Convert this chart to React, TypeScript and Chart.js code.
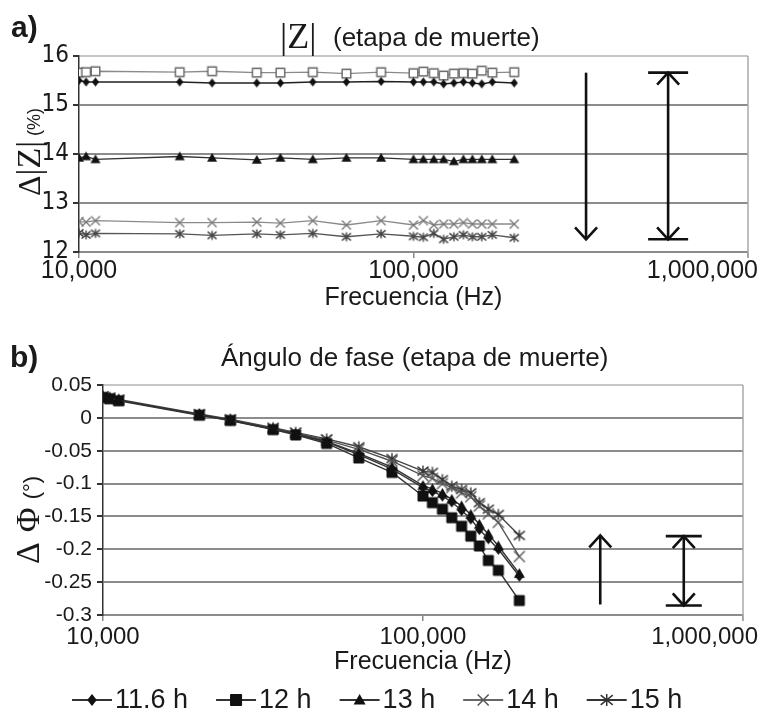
import React, { useEffect, useRef } from "react";
import { Chart, registerables } from "chart.js";

Chart.register(...registerables);

const SANS = "'Liberation Sans', Arial, sans-serif";
const NARROW = "'Liberation Sans Narrow', 'DejaVu Sans Condensed', sans-serif";
const SERIF = "'Liberation Serif', 'DejaVu Serif', serif";
const INK = "#1a1a1a";

// Measurement frequencies (Hz)
const FREQUENCIES = [
  10000, 10500, 11200, 20000, 25000, 34000, 40000, 50000, 63000, 80000,
  100000, 107000, 115000, 123000, 132000, 141000, 150000, 160000, 172000, 200000,
];

const SERIES_NAMES = ["11.6 h", "12 h", "13 h", "14 h", "15 h"];

// Δ|Z| (%)
const DZ_11_6H = [15.5, 15.47, 15.47, 15.47, 15.45, 15.45, 15.45, 15.47, 15.47, 15.48, 15.47, 15.47, 15.47, 15.43, 15.45, 15.47, 15.45, 15.43, 15.47, 15.45];
const DZ_12H = [15.66, 15.67, 15.69, 15.67, 15.69, 15.66, 15.66, 15.67, 15.64, 15.67, 15.65, 15.68, 15.65, 15.6, 15.64, 15.65, 15.64, 15.7, 15.66, 15.67];
const DZ_13H = [13.92, 13.95, 13.89, 13.95, 13.92, 13.88, 13.92, 13.89, 13.92, 13.92, 13.89, 13.89, 13.89, 13.89, 13.85, 13.89, 13.89, 13.89, 13.89, 13.89];
const DZ_14H = [12.62, 12.61, 12.64, 12.6, 12.6, 12.61, 12.59, 12.64, 12.55, 12.64, 12.55, 12.64, 12.55, 12.57, 12.57, 12.6, 12.57, 12.57, 12.57, 12.57];
const DZ_15H = [12.39, 12.35, 12.38, 12.37, 12.34, 12.37, 12.35, 12.38, 12.31, 12.37, 12.32, 12.3, 12.38, 12.26, 12.31, 12.35, 12.31, 12.31, 12.35, 12.29];

// ΔΦ (°)
const DP_11_6H = [0.032, 0.03, 0.027, 0.005, -0.004, -0.017, -0.025, -0.037, -0.056, -0.078, -0.106, -0.112, -0.119, -0.128, -0.141, -0.154, -0.17, -0.184, -0.2, -0.241];
const DP_12H = [0.031, 0.029, 0.026, 0.004, -0.004, -0.018, -0.026, -0.039, -0.061, -0.083, -0.119, -0.129, -0.139, -0.152, -0.165, -0.18, -0.195, -0.217, -0.232, -0.278];
const DP_13H = [0.032, 0.03, 0.027, 0.005, -0.003, -0.017, -0.024, -0.036, -0.054, -0.075, -0.103, -0.108, -0.115, -0.124, -0.134, -0.147, -0.162, -0.177, -0.195, -0.237];
const DP_14H = [0.032, 0.03, 0.027, 0.005, -0.003, -0.016, -0.023, -0.034, -0.048, -0.066, -0.088, -0.092, -0.1, -0.106, -0.114, -0.12, -0.134, -0.146, -0.159, -0.211];
const DP_15H = [0.033, 0.031, 0.028, 0.006, -0.002, -0.015, -0.022, -0.032, -0.044, -0.062, -0.081, -0.083, -0.094, -0.104, -0.109, -0.114, -0.129, -0.139, -0.147, -0.179];

const FREQ_TICKS = [10000, 100000, 1000000];
const DZ_TICKS = [12, 13, 14, 15, 16];
const DP_TICKS = [0.05, 0, -0.05, -0.1, -0.15, -0.2, -0.25, -0.3];

// Trend arrows (frequency, start value, end value)
type ArrowSpec = { freq: number; from: number; to: number; capped: boolean; capHalf?: number };
const DZ_ARROWS: ArrowSpec[] = [
  { freq: 328000, from: 15.66, to: 12.26, capped: false },
  { freq: 577000, from: 15.66, to: 12.26, capped: true, capHalf: 20 },
];
const DP_ARROWS: ArrowSpec[] = [
  { freq: 358000, from: -0.284, to: -0.179, capped: false },
  { freq: 653000, from: -0.2855, to: -0.18, capped: true, capHalf: 18 },
];

type MarkerKind = "diamond" | "square" | "triangle" | "cross" | "star";
type MarkerLook = { kind: MarkerKind; s: number; fill: string; stroke: string; lw: number };

function drawMarker(ctx: CanvasRenderingContext2D, m: MarkerLook, x: number, y: number) {
  const s = m.s;
  ctx.save();
  ctx.fillStyle = m.fill;
  ctx.strokeStyle = m.stroke;
  ctx.lineWidth = m.lw;
  ctx.beginPath();
  switch (m.kind) {
    case "diamond":
      ctx.moveTo(x, y - s);
      ctx.lineTo(x + s * 0.8, y);
      ctx.lineTo(x, y + s);
      ctx.lineTo(x - s * 0.8, y);
      ctx.closePath();
      ctx.fill();
      break;
    case "square":
      ctx.rect(x - s, y - s, 2 * s, 2 * s);
      ctx.fill();
      ctx.stroke();
      break;
    case "triangle":
      ctx.moveTo(x, y - s);
      ctx.lineTo(x + s, y + s * 0.75);
      ctx.lineTo(x - s, y + s * 0.75);
      ctx.closePath();
      ctx.fill();
      break;
    case "cross":
      ctx.moveTo(x - s, y - s);
      ctx.lineTo(x + s, y + s);
      ctx.moveTo(x + s, y - s);
      ctx.lineTo(x - s, y + s);
      ctx.stroke();
      break;
    case "star":
      ctx.moveTo(x - s, y - s * 0.8);
      ctx.lineTo(x + s, y + s * 0.8);
      ctx.moveTo(x + s, y - s * 0.8);
      ctx.lineTo(x - s, y + s * 0.8);
      ctx.moveTo(x, y - s);
      ctx.lineTo(x, y + s);
      ctx.stroke();
      break;
  }
  ctx.restore();
}

function markerImage(m: MarkerLook): HTMLCanvasElement {
  const c = document.createElement("canvas");
  const size = Math.ceil(2 * m.s + m.lw + 3);
  c.width = size;
  c.height = size;
  const ctx = c.getContext("2d")!;
  drawMarker(ctx, m, size / 2, size / 2);
  return c;
}

function drawArrows(chart: any, arrows: ArrowSpec[]) {
  const ctx: CanvasRenderingContext2D = chart.ctx;
  const xs = chart.scales.x;
  const ys = chart.scales.y;
  ctx.save();
  ctx.strokeStyle = "#111";
  ctx.lineWidth = 2.6;
  ctx.lineJoin = "miter";
  for (const a of arrows) {
    const x = xs.getPixelForValue(a.freq);
    const y1 = ys.getPixelForValue(a.from);
    const y2 = ys.getPixelForValue(a.to);
    const dir = Math.sign(y2 - y1);
    ctx.beginPath();
    ctx.moveTo(x, y1);
    ctx.lineTo(x, y2);
    ctx.stroke();
    const head = (tipY: number, d: number) => {
      ctx.beginPath();
      ctx.moveTo(x - 11, tipY - d * 12);
      ctx.lineTo(x, tipY);
      ctx.lineTo(x + 11, tipY - d * 12);
      ctx.stroke();
    };
    head(y2, dir);
    if (a.capped) {
      head(y1, -dir);
      const h = a.capHalf || 18;
      ctx.beginPath();
      ctx.moveTo(x - h, y1);
      ctx.lineTo(x + h, y1);
      ctx.moveTo(x - h, y2);
      ctx.lineTo(x + h, y2);
      ctx.stroke();
    }
  }
  ctx.restore();
}

function fmtFreq(v: number) {
  return v.toLocaleString("en-US");
}

type PanelCfg = {
  arrows: ArrowSpec[];
  tickFont: string;
  tickY: number;
  titleFont: string;
  titleY: number;
  legend?: { y: number; x0: number; looks: MarkerLook[]; lineColors: string[] };
};

function panelPlugin(cfg: PanelCfg) {
  return {
    id: "panelDecor",
    beforeDatasetsDraw(chart: any) {
      const { ctx, chartArea } = chart;
      ctx.save();
      ctx.strokeStyle = "#a8a8a8";
      ctx.lineWidth = 1.5;
      ctx.beginPath();
      ctx.moveTo(chartArea.right, chartArea.top);
      ctx.lineTo(chartArea.right, chartArea.bottom + 6);
      ctx.stroke();
      ctx.restore();
    },
    afterDatasetsDraw(chart: any) {
      drawArrows(chart, cfg.arrows);
    },
    afterDraw(chart: any) {
      const ctx: CanvasRenderingContext2D = chart.ctx;
      const xs = chart.scales.x;
      const W = chart.width;
      ctx.save();
      ctx.fillStyle = INK;
      ctx.textBaseline = "middle";
      ctx.textAlign = "center";
      ctx.font = cfg.tickFont;
      for (const v of FREQ_TICKS) {
        const px = xs.getPixelForValue(v);
        const w = ctx.measureText(fmtFreq(v)).width;
        const cx = Math.min(px, W - 5 - w / 2);
        ctx.fillText(fmtFreq(v), cx, cfg.tickY);
      }
      ctx.font = cfg.titleFont;
      const ca = chart.chartArea;
      ctx.fillText("Frecuencia (Hz)", (ca.left + ca.right) / 2, cfg.titleY);

      if (cfg.legend) {
        const lg = cfg.legend;
        let x = lg.x0;
        ctx.textAlign = "left";
        ctx.font = `27px ${SANS}`;
        SERIES_NAMES.forEach((name, i) => {
          ctx.strokeStyle = lg.lineColors[i];
          ctx.lineWidth = 2;
          ctx.beginPath();
          ctx.moveTo(x, lg.y);
          ctx.lineTo(x + 40, lg.y);
          ctx.stroke();
          drawMarker(ctx, lg.looks[i], x + 20, lg.y);
          ctx.fillStyle = INK;
          ctx.fillText(name, x + 43, lg.y + 1);
          x += 43 + ctx.measureText(name).width + 28;
        });
      }
      ctx.restore();
    },
  };
}

function series(values: number[]) {
  return FREQUENCIES.map((f, i) => ({ x: f, y: values[i] }));
}

export default function App() {
  const topRef = useRef<HTMLCanvasElement>(null);
  const botRef = useRef<HTMLCanvasElement>(null);

  useEffect(() => {
    document.body.style.margin = "0";

    const topLooks: MarkerLook[] = [
      { kind: "diamond", s: 4.5, fill: "#111", stroke: "#111", lw: 1 },
      { kind: "square", s: 4.3, fill: "#fff", stroke: "#666", lw: 1.4 },
      { kind: "triangle", s: 5, fill: "#111", stroke: "#111", lw: 1 },
      { kind: "cross", s: 4.5, fill: "#777", stroke: "#777", lw: 1.4 },
      { kind: "star", s: 4.5, fill: "#444", stroke: "#444", lw: 1.4 },
    ];
    const topLines = ["#222", "#8a8a8a", "#333", "#8a8a8a", "#555"];
    const dz = [DZ_11_6H, DZ_12H, DZ_13H, DZ_14H, DZ_15H];

    const botLooks: MarkerLook[] = [
      { kind: "diamond", s: 5.5, fill: "#111", stroke: "#111", lw: 1 },
      { kind: "square", s: 5, fill: "#111", stroke: "#111", lw: 1 },
      { kind: "triangle", s: 5.5, fill: "#111", stroke: "#111", lw: 1 },
      { kind: "cross", s: 5.5, fill: "#555", stroke: "#555", lw: 1.4 },
      { kind: "star", s: 5.5, fill: "#333", stroke: "#333", lw: 1.4 },
    ];
    const botLines = ["#333", "#333", "#333", "#555", "#444"];
    const dp = [DP_11_6H, DP_12H, DP_13H, DP_14H, DP_15H];

    const legendLooks: MarkerLook[] = [
      { kind: "diamond", s: 6, fill: "#111", stroke: "#111", lw: 1 },
      { kind: "square", s: 5.5, fill: "#111", stroke: "#111", lw: 1 },
      { kind: "triangle", s: 6, fill: "#111", stroke: "#111", lw: 1 },
      { kind: "cross", s: 5.5, fill: "#555", stroke: "#555", lw: 1.5 },
      { kind: "star", s: 6, fill: "#333", stroke: "#333", lw: 1.5 },
    ];

    const makeDatasets = (vals: number[][], looks: MarkerLook[], lines: string[], lw: number) =>
      vals.map((v, i) => ({
        label: SERIES_NAMES[i],
        data: series(v),
        borderColor: lines[i],
        borderWidth: lw,
        pointStyle: markerImage(looks[i]),
        pointRadius: 4,
        pointHoverRadius: 4,
        tension: 0,
        fill: false,
      }));

    const gridColor = (topValue: number) => (c: any) =>
      c.tick && Math.abs(c.tick.value - topValue) < 1e-9 ? "#c6c6c6" : "#8c8c8c";

    const xScale = (height: number) => ({
      type: "logarithmic" as const,
      min: 10000,
      max: 1000000,
      afterBuildTicks: (s: any) => {
        s.ticks = FREQ_TICKS.map((v) => ({ value: v }));
      },
      afterFit: (s: any) => {
        s.height = height;
      },
      ticks: { display: false },
      grid: { drawOnChartArea: false, drawTicks: true, tickLength: 6, tickColor: "#888", lineWidth: 1.5 },
      border: { display: true, color: "#8c8c8c", width: 2 },
    });

    const topChart = new Chart(topRef.current!, {
      type: "line",
      data: { datasets: makeDatasets(dz, topLooks, topLines, 1.4) as any },
      options: {
        responsive: false,
        animation: false,
        events: [],
        layout: { padding: { left: 0, right: 15, top: 56, bottom: 0 }, autoPadding: false } as any,
        plugins: { legend: { display: false }, tooltip: { enabled: false } },
        scales: {
          x: xScale(68) as any,
          y: {
            type: "linear",
            min: 12,
            max: 16,
            afterBuildTicks: (s: any) => {
              s.ticks = DZ_TICKS.map((v) => ({ value: v }));
            },
            afterFit: (s: any) => {
              s.width = 79;
            },
            ticks: { color: INK, font: { family: NARROW, size: 24 }, padding: 4 },
            grid: { color: gridColor(16), lineWidth: 2, tickLength: 6, tickColor: "#333", drawTicks: true },
            border: { display: true, color: "#333", width: 1.5 },
          } as any,
        },
      },
      plugins: [
        panelPlugin({
          arrows: DZ_ARROWS,
          tickFont: `25px ${SANS}`,
          tickY: 271,
          titleFont: `25px ${SANS}`,
          titleY: 298,
        }),
      ],
    });

    const botChart = new Chart(botRef.current!, {
      type: "line",
      data: { datasets: makeDatasets(dp, botLooks, botLines, 1.4) as any },
      options: {
        responsive: false,
        animation: false,
        events: [],
        layout: { padding: { left: 0, right: 20, top: 65, bottom: 0 }, autoPadding: false } as any,
        plugins: { legend: { display: false }, tooltip: { enabled: false } },
        scales: {
          x: xScale(101) as any,
          y: {
            type: "linear",
            min: -0.3,
            max: 0.05,
            afterBuildTicks: (s: any) => {
              s.ticks = DP_TICKS.map((v) => ({ value: v }));
            },
            afterFit: (s: any) => {
              s.width = 103;
            },
            ticks: {
              color: INK,
              font: { family: SANS, size: 21 },
              padding: 5,
              callback: (v: any) => String(v),
            },
            grid: { color: gridColor(0.05), lineWidth: 2, tickLength: 6, tickColor: "#333", drawTicks: true },
            border: { display: true, color: "#333", width: 1.5 },
          } as any,
        },
      },
      plugins: [
        panelPlugin({
          arrows: DP_ARROWS,
          tickFont: `24px ${SANS}`,
          tickY: 317,
          titleFont: `25px ${SANS}`,
          titleY: 342,
          legend: { y: 380, x0: 72, looks: legendLooks, lineColors: ["#333", "#333", "#333", "#666", "#333"] },
        }),
      ],
    });

    return () => {
      topChart.destroy();
      botChart.destroy();
    };
  }, []);

  const abs = (left: number, top: number, extra: React.CSSProperties = {}): React.CSSProperties => ({
    position: "absolute",
    left,
    top,
    lineHeight: 1,
    whiteSpace: "nowrap",
    color: INK,
    ...extra,
  });

  const rotated = (cx: number, cy: number): React.CSSProperties => ({
    position: "absolute",
    left: cx,
    top: cy,
    transform: "translate(-50%, -50%) rotate(-90deg)",
    whiteSpace: "nowrap",
    lineHeight: 1,
    color: INK,
  });

  return (
    <div style={{ position: "absolute", left: 0, top: 0, width: 763, height: 716, background: "#fff", overflow: "hidden" }}>
      <canvas ref={topRef} width={763} height={320} style={{ position: "absolute", left: 0, top: 0 }} />
      <canvas ref={botRef} width={763} height={396} style={{ position: "absolute", left: 0, top: 320 }} />

      <div style={abs(11, 10, { font: `bold 30px ${SANS}` })}>a)</div>
      <div style={abs(280, 15, { font: `36px ${SERIF}` })}>|Z|</div>
      <div style={abs(333, 22, { font: `26px ${SANS}` })}>(etapa de muerte)</div>
      <div style={rotated(29, 152)}>
        <span style={{ font: `32px ${SERIF}` }}>Δ</span>
        <span style={{ font: `34px ${SERIF}` }}>|Z|</span>
        <span style={{ font: `18px ${SANS}` }}> (%)</span>
      </div>

      <div style={abs(10, 340, { font: `bold 30px ${SANS}` })}>b)</div>
      <div style={abs(221, 342, { font: `26px ${SANS}` })}>Ángulo de fase (etapa de muerte)</div>
      <div style={rotated(28, 520)}>
        <span style={{ font: `34px ${SERIF}` }}>Δ</span>
        <span style={{ font: `34px ${SERIF}`, marginLeft: 10 }}>Φ</span>
        <span style={{ font: `22px ${SANS}`, marginLeft: 8 }}>(°)</span>
      </div>
    </div>
  );
}
